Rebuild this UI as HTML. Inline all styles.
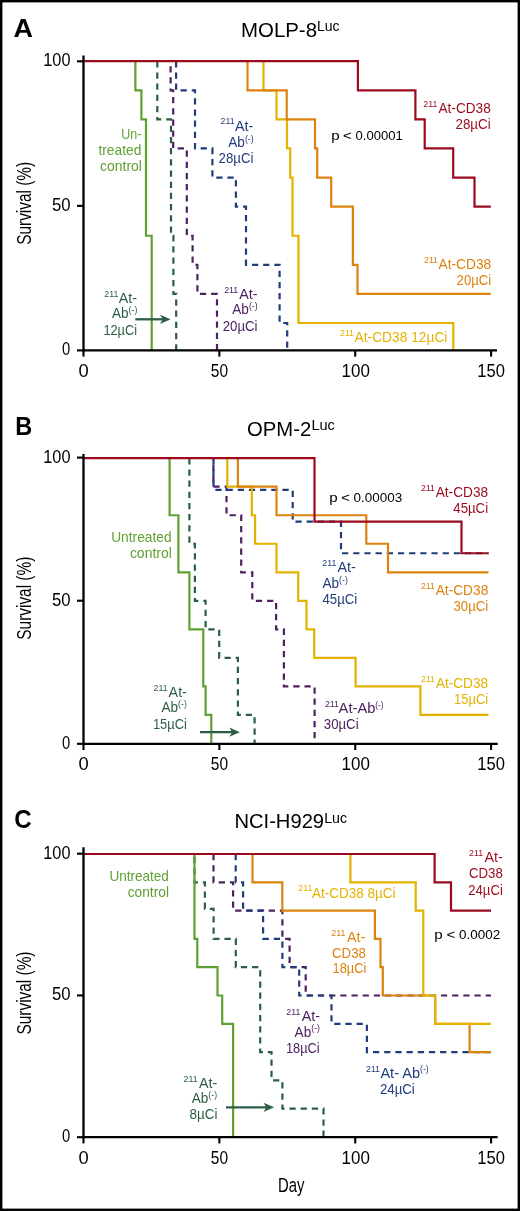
<!DOCTYPE html>
<html><head><meta charset="utf-8"><title>Survival curves</title>
<style>
html,body{margin:0;padding:0;background:#fff;}
body{width:520px;height:1211px;overflow:hidden;}
svg{display:block;font-family:"Liberation Sans", sans-serif;will-change:transform;}
</style></head>
<body>
<svg width="520" height="1211" viewBox="0 0 520 1211">
<rect x="0" y="0" width="520" height="1211" fill="#fff"/>
<rect x="1.2" y="1.2" width="517.6" height="1208.6" fill="none" stroke="#000" stroke-width="2.4"/>
<g><text x="70.5" y="66.2" font-size="17.5" fill="#000" textLength="27.2" lengthAdjust="spacingAndGlyphs" text-anchor="end">100</text>
<text x="70.6" y="210.8" font-size="17.5" fill="#000" textLength="18.6" lengthAdjust="spacingAndGlyphs" text-anchor="end">50</text>
<text x="70.1" y="355.3" font-size="17.5" fill="#000" textLength="8.2" lengthAdjust="spacingAndGlyphs" text-anchor="end">0</text>
<text x="83.5" y="376.5" font-size="17.5" fill="#000" textLength="10.2" lengthAdjust="spacingAndGlyphs" text-anchor="middle">0</text>
<text x="219.4" y="376.5" font-size="17.5" fill="#000" textLength="17.2" lengthAdjust="spacingAndGlyphs" text-anchor="middle">50</text>
<text x="355.7" y="376.5" font-size="17.5" fill="#000" textLength="28.3" lengthAdjust="spacingAndGlyphs" text-anchor="middle">100</text>
<text x="491.1" y="376.5" font-size="17.5" fill="#000" textLength="27.6" lengthAdjust="spacingAndGlyphs" text-anchor="middle">150</text>
<text transform="translate(30.9,203.3) rotate(-90)" x="0" y="0" font-size="20.5" text-anchor="middle" textLength="83" lengthAdjust="spacingAndGlyphs">Survival (%)</text>
<text x="13.6" y="36.9" font-size="25" fill="#000" textLength="19.5" lengthAdjust="spacingAndGlyphs" font-weight="bold">A</text>
<text x="241.0" y="37.3" font-size="19.5" fill="#000" textLength="76.0" lengthAdjust="spacingAndGlyphs">MOLP-8</text>
<text x="317.0" y="30.8" font-size="15.4" fill="#000" textLength="22.6" lengthAdjust="spacingAndGlyphs">Luc</text>
<path d="M157.30,61.20 H157.30 V119.38 H171.00 V235.74 H173.40 V293.92 H176.20 V350.40" fill="none" stroke="#2b5e45" stroke-width="2.2" stroke-linejoin="miter" stroke-linecap="butt" stroke-dasharray="6.25 4.93"/>
<path d="M170.60,61.20 H170.60 V90.29 H173.20 V148.47 H186.80 V235.74 H192.60 V264.83 H197.40 V293.92 H217.00 V350.40" fill="none" stroke="#4d2060" stroke-width="2.2" stroke-linejoin="miter" stroke-linecap="butt" stroke-dasharray="6.25 4.93" stroke-dashoffset="6.25"/>
<path d="M176.10,61.20 H176.10 V90.29 H195.00 V148.47 H212.40 V177.56 H235.90 V206.65 H246.00 V264.83 H279.60 V323.01 H287.20 V350.40" fill="none" stroke="#203d7a" stroke-width="2.2" stroke-linejoin="miter" stroke-linecap="butt" stroke-dasharray="6.25 4.93"/>
<path d="M135.40,61.20 H135.40 V90.29 H141.40 V119.38 H146.00 V235.74 H151.70 V350.40" fill="none" stroke="#5fa032" stroke-width="2.2" stroke-linejoin="miter" stroke-linecap="butt"/>
<path d="M263.50,61.20 H263.50 V90.29 H276.50 V119.38 H287.00 V148.47 H290.20 V177.56 H292.50 V235.74 H298.50 V323.01 H453.30 V350.40" fill="none" stroke="#e3b300" stroke-width="2.2" stroke-linejoin="miter" stroke-linecap="butt"/>
<path d="M247.50,61.20 H247.50 V90.29 H286.70 V119.38 H315.00 V148.47 H317.20 V177.56 H331.20 V206.65 H352.90 V264.83 H357.50 V293.92 H490.80" fill="none" stroke="#dc820f" stroke-width="2.2" stroke-linejoin="miter" stroke-linecap="butt"/>
<path d="M84.1,61.20 H357.90 H357.90 V90.29 H415.40 V119.38 H424.70 V148.47 H453.20 V177.56 H474.50 V206.65 H490.80" fill="none" stroke="#9c0a1e" stroke-width="2.2" stroke-linejoin="miter" stroke-linecap="butt"/>
<path d="M83.5,55.4 V351.5" stroke="#000" stroke-width="2.3" fill="none"/>
<path d="M82.4,350.4 H497.0" stroke="#000" stroke-width="2.3" fill="none"/>
<path d="M77,61.30 H83.5" stroke="#000" stroke-width="2.1" fill="none"/>
<path d="M77,205.85 H83.5" stroke="#000" stroke-width="2.1" fill="none"/>
<path d="M77,350.40 H83.5" stroke="#000" stroke-width="2.1" fill="none"/>
<path d="M83.50,350.4 V356.60" stroke="#000" stroke-width="2.1" fill="none"/>
<path d="M219.36,350.4 V356.60" stroke="#000" stroke-width="2.1" fill="none"/>
<path d="M355.23,350.4 V356.60" stroke="#000" stroke-width="2.1" fill="none"/>
<path d="M491.09,350.4 V356.60" stroke="#000" stroke-width="2.1" fill="none"/>
<text x="141.4" y="138.6" font-size="13.9" fill="#5fa032" textLength="20.2" lengthAdjust="spacingAndGlyphs" text-anchor="end">Un-</text>
<text x="141.4" y="154.7" font-size="13.9" fill="#5fa032" textLength="43.0" lengthAdjust="spacingAndGlyphs" text-anchor="end">treated</text>
<text x="141.9" y="170.6" font-size="13.9" fill="#5fa032" textLength="41.9" lengthAdjust="spacingAndGlyphs" text-anchor="end">control</text>
<text x="220.6" y="124.4" font-size="9.2" fill="#203d7a" textLength="14.0" lengthAdjust="spacingAndGlyphs">211</text>
<text x="253.3" y="130.5" font-size="13.9" fill="#203d7a" textLength="18.3" lengthAdjust="spacingAndGlyphs" text-anchor="end">At-</text>
<text x="228.3" y="147.0" font-size="13.9" fill="#203d7a" textLength="16.6" lengthAdjust="spacingAndGlyphs">Ab</text>
<text x="244.9" y="141.6" font-size="9.2" fill="#203d7a" textLength="8.8" lengthAdjust="spacingAndGlyphs">(-)</text>
<text x="253.4" y="162.5" font-size="13.9" fill="#203d7a" textLength="34.8" lengthAdjust="spacingAndGlyphs" text-anchor="end">28µCi</text>
<text x="104.3" y="296.9" font-size="9.2" fill="#2b5e45" textLength="14.0" lengthAdjust="spacingAndGlyphs">211</text>
<text x="137.0" y="302.6" font-size="13.9" fill="#2b5e45" textLength="18.3" lengthAdjust="spacingAndGlyphs" text-anchor="end">At-</text>
<text x="112.0" y="318.0" font-size="13.9" fill="#2b5e45" textLength="16.6" lengthAdjust="spacingAndGlyphs">Ab</text>
<text x="128.6" y="312.5" font-size="9.2" fill="#2b5e45" textLength="8.8" lengthAdjust="spacingAndGlyphs">(-)</text>
<text x="137.0" y="334.6" font-size="13.9" fill="#2b5e45" textLength="33.6" lengthAdjust="spacingAndGlyphs" text-anchor="end">12µCi</text>
<text x="224.2" y="292.7" font-size="9.2" fill="#4d2060" textLength="14.0" lengthAdjust="spacingAndGlyphs">211</text>
<text x="257.5" y="298.5" font-size="13.9" fill="#4d2060" textLength="18.3" lengthAdjust="spacingAndGlyphs" text-anchor="end">At-</text>
<text x="232.3" y="314.4" font-size="13.9" fill="#4d2060" textLength="16.6" lengthAdjust="spacingAndGlyphs">Ab</text>
<text x="248.9" y="308.9" font-size="9.2" fill="#4d2060" textLength="8.8" lengthAdjust="spacingAndGlyphs">(-)</text>
<text x="257.5" y="330.8" font-size="13.9" fill="#4d2060" textLength="34.8" lengthAdjust="spacingAndGlyphs" text-anchor="end">20µCi</text>
<text x="424.0" y="262.9" font-size="9.2" fill="#dc820f" textLength="14.0" lengthAdjust="spacingAndGlyphs">211</text>
<text x="491.2" y="268.7" font-size="13.9" fill="#dc820f" textLength="52.6" lengthAdjust="spacingAndGlyphs" text-anchor="end">At-CD38</text>
<text x="491.2" y="284.6" font-size="13.9" fill="#dc820f" textLength="34.6" lengthAdjust="spacingAndGlyphs" text-anchor="end">20µCi</text>
<text x="340.0" y="336.2" font-size="9.2" fill="#e3b300" textLength="14.0" lengthAdjust="spacingAndGlyphs">211</text>
<text x="354.6" y="342.0" font-size="13.9" fill="#e3b300" textLength="92.8" lengthAdjust="spacingAndGlyphs">At-CD38 12µCi</text>
<text x="423.3" y="106.9" font-size="9.2" fill="#9c0a1e" textLength="14.0" lengthAdjust="spacingAndGlyphs">211</text>
<text x="490.7" y="112.7" font-size="13.9" fill="#9c0a1e" textLength="52.2" lengthAdjust="spacingAndGlyphs" text-anchor="end">At-CD38</text>
<text x="490.7" y="129.3" font-size="13.9" fill="#9c0a1e" textLength="35.2" lengthAdjust="spacingAndGlyphs" text-anchor="end">28µCi</text>
<text x="331.2" y="139.6" font-size="12.8" fill="#000" textLength="8.4" lengthAdjust="spacingAndGlyphs">p</text>
<text x="343.1" y="139.6" font-size="12.8" fill="#000" textLength="8.8" lengthAdjust="spacingAndGlyphs">&lt;</text>
<text x="355.6" y="139.6" font-size="12.8" fill="#000" textLength="47.2" lengthAdjust="spacingAndGlyphs">0.00001</text>
<path d="M135.3,319.3 H164.6" stroke="#2b5e45" stroke-width="2.3" fill="none"/><path d="M170.6,319.3 L160.0,314.7 L162.79999999999998,319.3 L160.0,323.90000000000003 Z" fill="#2b5e45"/>
</g><g><text x="70.5" y="462.6" font-size="17.5" fill="#000" textLength="27.2" lengthAdjust="spacingAndGlyphs" text-anchor="end">100</text>
<text x="70.6" y="605.6" font-size="17.5" fill="#000" textLength="18.6" lengthAdjust="spacingAndGlyphs" text-anchor="end">50</text>
<text x="70.1" y="748.7" font-size="17.5" fill="#000" textLength="8.2" lengthAdjust="spacingAndGlyphs" text-anchor="end">0</text>
<text x="83.5" y="770.3" font-size="17.5" fill="#000" textLength="10.2" lengthAdjust="spacingAndGlyphs" text-anchor="middle">0</text>
<text x="219.4" y="770.3" font-size="17.5" fill="#000" textLength="17.2" lengthAdjust="spacingAndGlyphs" text-anchor="middle">50</text>
<text x="355.7" y="770.3" font-size="17.5" fill="#000" textLength="28.3" lengthAdjust="spacingAndGlyphs" text-anchor="middle">100</text>
<text x="491.1" y="770.3" font-size="17.5" fill="#000" textLength="27.6" lengthAdjust="spacingAndGlyphs" text-anchor="middle">150</text>
<text transform="translate(30.9,598.2) rotate(-90)" x="0" y="0" font-size="20.5" text-anchor="middle" textLength="83" lengthAdjust="spacingAndGlyphs">Survival (%)</text>
<text x="15.2" y="434.8" font-size="25" fill="#000" textLength="17.0" lengthAdjust="spacingAndGlyphs" font-weight="bold">B</text>
<text x="247.0" y="435.7" font-size="19.5" fill="#000" textLength="64.2" lengthAdjust="spacingAndGlyphs">OPM-2</text>
<text x="311.4" y="429.7" font-size="15.4" fill="#000" textLength="23.5" lengthAdjust="spacingAndGlyphs">Luc</text>
<path d="M189.40,458.20 H189.40 V543.76 H194.90 V600.80 H205.60 V629.32 H219.20 V657.84 H237.90 V714.88 H254.60 V743.80" fill="none" stroke="#2b5e45" stroke-width="2.2" stroke-linejoin="miter" stroke-linecap="butt" stroke-dasharray="6.25 4.93"/>
<path d="M213.40,458.20 H213.40 V486.72 H226.50 V515.24 H241.20 V572.28 H252.30 V600.80 H276.10 V629.32 H283.90 V686.36 H314.60 V743.80" fill="none" stroke="#4d2060" stroke-width="2.2" stroke-linejoin="miter" stroke-linecap="butt" stroke-dasharray="6.25 4.93" stroke-dashoffset="5.00"/>
<path d="M213.50,458.20 H213.50 V489.89 H292.70 V521.58 H341.00 V553.27 H488.50" fill="none" stroke="#203d7a" stroke-width="2.2" stroke-linejoin="miter" stroke-linecap="butt" stroke-dasharray="6.25 4.93"/>
<path d="M169.60,458.20 H169.60 V515.24 H178.40 V572.28 H189.40 V629.32 H203.30 V686.36 H205.60 V714.88 H211.30 V743.80" fill="none" stroke="#5fa032" stroke-width="2.2" stroke-linejoin="miter" stroke-linecap="butt"/>
<path d="M227.30,458.20 H227.30 V486.72 H251.80 V515.24 H255.10 V543.76 H276.50 V572.28 H298.20 V600.80 H306.50 V629.32 H314.20 V657.84 H355.60 V686.36 H420.40 V714.88 H488.50" fill="none" stroke="#e3b300" stroke-width="2.2" stroke-linejoin="miter" stroke-linecap="butt"/>
<path d="M237.90,458.20 H237.90 V486.72 H276.50 V515.24 H366.30 V543.76 H388.00 V572.28 H488.50" fill="none" stroke="#dc820f" stroke-width="2.2" stroke-linejoin="miter" stroke-linecap="butt"/>
<path d="M84.1,458.20 H314.50 H314.50 V521.58 H461.50 V553.27 H488.50" fill="none" stroke="#9c0a1e" stroke-width="2.2" stroke-linejoin="miter" stroke-linecap="butt"/>
<path d="M83.5,454.0 V744.9" stroke="#000" stroke-width="2.3" fill="none"/>
<path d="M82.4,743.8 H497.7" stroke="#000" stroke-width="2.3" fill="none"/>
<path d="M77,457.60 H83.5" stroke="#000" stroke-width="2.1" fill="none"/>
<path d="M77,600.70 H83.5" stroke="#000" stroke-width="2.1" fill="none"/>
<path d="M77,743.80 H83.5" stroke="#000" stroke-width="2.1" fill="none"/>
<path d="M83.50,743.8 V750.00" stroke="#000" stroke-width="2.1" fill="none"/>
<path d="M219.36,743.8 V750.00" stroke="#000" stroke-width="2.1" fill="none"/>
<path d="M355.23,743.8 V750.00" stroke="#000" stroke-width="2.1" fill="none"/>
<path d="M491.09,743.8 V750.00" stroke="#000" stroke-width="2.1" fill="none"/>
<text x="171.6" y="541.5" font-size="13.9" fill="#5fa032" textLength="60.4" lengthAdjust="spacingAndGlyphs" text-anchor="end">Untreated</text>
<text x="171.8" y="557.7" font-size="13.9" fill="#5fa032" textLength="41.9" lengthAdjust="spacingAndGlyphs" text-anchor="end">control</text>
<text x="153.6" y="690.9" font-size="9.2" fill="#2b5e45" textLength="14.0" lengthAdjust="spacingAndGlyphs">211</text>
<text x="186.9" y="696.7" font-size="13.9" fill="#2b5e45" textLength="18.3" lengthAdjust="spacingAndGlyphs" text-anchor="end">At-</text>
<text x="161.5" y="712.3" font-size="13.9" fill="#2b5e45" textLength="16.6" lengthAdjust="spacingAndGlyphs">Ab</text>
<text x="178.1" y="706.8" font-size="9.2" fill="#2b5e45" textLength="8.8" lengthAdjust="spacingAndGlyphs">(-)</text>
<text x="186.9" y="728.5" font-size="13.9" fill="#2b5e45" textLength="34.0" lengthAdjust="spacingAndGlyphs" text-anchor="end">15µCi</text>
<text x="322.3" y="566.1" font-size="9.2" fill="#203d7a" textLength="14.0" lengthAdjust="spacingAndGlyphs">211</text>
<text x="355.8" y="571.9" font-size="13.9" fill="#203d7a" textLength="18.3" lengthAdjust="spacingAndGlyphs" text-anchor="end">At-</text>
<text x="322.5" y="588.1" font-size="13.9" fill="#203d7a" textLength="16.6" lengthAdjust="spacingAndGlyphs">Ab</text>
<text x="339.1" y="582.6" font-size="9.2" fill="#203d7a" textLength="8.8" lengthAdjust="spacingAndGlyphs">(-)</text>
<text x="322.5" y="604.2" font-size="13.9" fill="#203d7a" textLength="34.8" lengthAdjust="spacingAndGlyphs">45µCi</text>
<text x="324.9" y="707.4" font-size="9.2" fill="#4d2060" textLength="14.0" lengthAdjust="spacingAndGlyphs">211</text>
<text x="338.6" y="713.2" font-size="13.9" fill="#4d2060" textLength="36.8" lengthAdjust="spacingAndGlyphs">At-Ab</text>
<text x="375.3" y="707.7" font-size="9.2" fill="#4d2060" textLength="8.0" lengthAdjust="spacingAndGlyphs">(-)</text>
<text x="323.8" y="728.6" font-size="13.9" fill="#4d2060" textLength="34.8" lengthAdjust="spacingAndGlyphs">30µCi</text>
<text x="421.0" y="682.4" font-size="9.2" fill="#e3b300" textLength="14.0" lengthAdjust="spacingAndGlyphs">211</text>
<text x="488.1" y="688.2" font-size="13.9" fill="#e3b300" textLength="52.2" lengthAdjust="spacingAndGlyphs" text-anchor="end">At-CD38</text>
<text x="488.1" y="703.7" font-size="13.9" fill="#e3b300" textLength="34.0" lengthAdjust="spacingAndGlyphs" text-anchor="end">15µCi</text>
<text x="421.0" y="589.2" font-size="9.2" fill="#dc820f" textLength="14.0" lengthAdjust="spacingAndGlyphs">211</text>
<text x="488.3" y="595.0" font-size="13.9" fill="#dc820f" textLength="52.6" lengthAdjust="spacingAndGlyphs" text-anchor="end">At-CD38</text>
<text x="488.3" y="611.0" font-size="13.9" fill="#dc820f" textLength="34.8" lengthAdjust="spacingAndGlyphs" text-anchor="end">30µCi</text>
<text x="421.0" y="491.0" font-size="9.2" fill="#9c0a1e" textLength="14.0" lengthAdjust="spacingAndGlyphs">211</text>
<text x="488.1" y="496.8" font-size="13.9" fill="#9c0a1e" textLength="52.4" lengthAdjust="spacingAndGlyphs" text-anchor="end">At-CD38</text>
<text x="488.1" y="512.7" font-size="13.9" fill="#9c0a1e" textLength="34.8" lengthAdjust="spacingAndGlyphs" text-anchor="end">45µCi</text>
<text x="329.3" y="502.2" font-size="12.8" fill="#000" textLength="8.4" lengthAdjust="spacingAndGlyphs">p</text>
<text x="341.2" y="502.2" font-size="12.8" fill="#000" textLength="8.8" lengthAdjust="spacingAndGlyphs">&lt;</text>
<text x="353.6" y="502.2" font-size="12.8" fill="#000" textLength="48.6" lengthAdjust="spacingAndGlyphs">0.00003</text>
<path d="M200.0,732.2 H233.9" stroke="#2b5e45" stroke-width="2.3" fill="none"/><path d="M239.9,732.2 L229.3,727.6 L232.1,732.2 L229.3,736.8000000000001 Z" fill="#2b5e45"/>
</g><g><text x="70.5" y="858.7" font-size="17.5" fill="#000" textLength="27.2" lengthAdjust="spacingAndGlyphs" text-anchor="end">100</text>
<text x="70.6" y="1000.4" font-size="17.5" fill="#000" textLength="18.6" lengthAdjust="spacingAndGlyphs" text-anchor="end">50</text>
<text x="70.1" y="1142.1" font-size="17.5" fill="#000" textLength="8.2" lengthAdjust="spacingAndGlyphs" text-anchor="end">0</text>
<text x="83.5" y="1163.7" font-size="17.5" fill="#000" textLength="10.2" lengthAdjust="spacingAndGlyphs" text-anchor="middle">0</text>
<text x="219.4" y="1163.7" font-size="17.5" fill="#000" textLength="17.2" lengthAdjust="spacingAndGlyphs" text-anchor="middle">50</text>
<text x="355.7" y="1163.7" font-size="17.5" fill="#000" textLength="28.3" lengthAdjust="spacingAndGlyphs" text-anchor="middle">100</text>
<text x="491.1" y="1163.7" font-size="17.5" fill="#000" textLength="27.6" lengthAdjust="spacingAndGlyphs" text-anchor="middle">150</text>
<text transform="translate(30.9,993.0) rotate(-90)" x="0" y="0" font-size="20.5" text-anchor="middle" textLength="83" lengthAdjust="spacingAndGlyphs">Survival (%)</text>
<text x="14.2" y="828.3" font-size="25" fill="#000" textLength="17.4" lengthAdjust="spacingAndGlyphs" font-weight="bold">C</text>
<text x="234.4" y="828.3" font-size="19.5" fill="#000" textLength="89.7" lengthAdjust="spacingAndGlyphs">NCI-H929</text>
<text x="324.2" y="822.8" font-size="15.4" fill="#000" textLength="23.0" lengthAdjust="spacingAndGlyphs">Luc</text>
<path d="M194.50,854.00 H194.50 V882.30 H204.90 V908.80 H213.60 V938.90 H235.80 V967.20 H260.20 V1052.10 H271.50 V1080.40 H282.40 V1108.70 H323.50 V1137.20" fill="none" stroke="#2b5e45" stroke-width="2.2" stroke-linejoin="miter" stroke-linecap="butt" stroke-dasharray="6.25 4.93" stroke-dashoffset="8.10"/>
<path d="M213.50,854.00 H213.50 V882.30 H233.10 V910.60 H282.40 V938.90 H289.60 V967.20 H305.70 V995.50 H491.00" fill="none" stroke="#4d2060" stroke-width="2.2" stroke-linejoin="miter" stroke-linecap="butt" stroke-dasharray="6.25 4.93"/>
<path d="M235.70,854.00 H235.70 V882.30 H243.10 V910.60 H263.10 V938.90 H282.40 V967.20 H299.20 V995.50 H331.50 V1023.80 H366.90 V1052.10 H491.00" fill="none" stroke="#203d7a" stroke-width="2.2" stroke-linejoin="miter" stroke-linecap="butt" stroke-dasharray="6.25 4.93"/>
<path d="M194.50,854.00 H194.50 V938.90 H197.30 V967.20 H217.50 V995.50 H222.20 V1023.80 H233.10 V1137.20" fill="none" stroke="#5fa032" stroke-width="2.2" stroke-linejoin="miter" stroke-linecap="butt"/>
<path d="M252.50,854.00 H252.50 V882.30 H282.30 V910.60 H374.90 V938.90 H380.50 V967.20 H382.80 V995.50 H435.20 V1023.80 H469.60 V1052.10 H491.00" fill="none" stroke="#dc820f" stroke-width="2.2" stroke-linejoin="miter" stroke-linecap="butt"/>
<path d="M350.40,854.00 H350.40 V882.30 H415.70 V910.60 H423.30 V995.50 H435.20 V1023.80 H491.00" fill="none" stroke="#e3b300" stroke-width="2.2" stroke-linejoin="miter" stroke-linecap="butt"/>
<path d="M84.1,854.00 H434.60 H434.60 V882.30 H451.00 V910.60 H491.00" fill="none" stroke="#9c0a1e" stroke-width="2.2" stroke-linejoin="miter" stroke-linecap="butt"/>
<path d="M83.5,847.2 V1138.3" stroke="#000" stroke-width="2.3" fill="none"/>
<path d="M82.4,1137.2 H497.7" stroke="#000" stroke-width="2.3" fill="none"/>
<path d="M77,853.70 H83.5" stroke="#000" stroke-width="2.1" fill="none"/>
<path d="M77,995.45 H83.5" stroke="#000" stroke-width="2.1" fill="none"/>
<path d="M77,1137.20 H83.5" stroke="#000" stroke-width="2.1" fill="none"/>
<path d="M83.50,1137.2 V1143.40" stroke="#000" stroke-width="2.1" fill="none"/>
<path d="M219.36,1137.2 V1143.40" stroke="#000" stroke-width="2.1" fill="none"/>
<path d="M355.23,1137.2 V1143.40" stroke="#000" stroke-width="2.1" fill="none"/>
<path d="M491.09,1137.2 V1143.40" stroke="#000" stroke-width="2.1" fill="none"/>
<text x="168.9" y="880.6" font-size="13.9" fill="#5fa032" textLength="59.5" lengthAdjust="spacingAndGlyphs" text-anchor="end">Untreated</text>
<text x="169.0" y="896.5" font-size="13.9" fill="#5fa032" textLength="41.3" lengthAdjust="spacingAndGlyphs" text-anchor="end">control</text>
<text x="183.6" y="1081.8" font-size="9.2" fill="#2b5e45" textLength="14.0" lengthAdjust="spacingAndGlyphs">211</text>
<text x="217.3" y="1087.5" font-size="13.9" fill="#2b5e45" textLength="18.3" lengthAdjust="spacingAndGlyphs" text-anchor="end">At-</text>
<text x="191.7" y="1103.2" font-size="13.9" fill="#2b5e45" textLength="16.6" lengthAdjust="spacingAndGlyphs">Ab</text>
<text x="208.3" y="1097.7" font-size="9.2" fill="#2b5e45" textLength="8.8" lengthAdjust="spacingAndGlyphs">(-)</text>
<text x="217.5" y="1119.0" font-size="13.9" fill="#2b5e45" textLength="27.9" lengthAdjust="spacingAndGlyphs" text-anchor="end">8µCi</text>
<text x="286.3" y="1014.8" font-size="9.2" fill="#4d2060" textLength="14.0" lengthAdjust="spacingAndGlyphs">211</text>
<text x="320.0" y="1020.6" font-size="13.9" fill="#4d2060" textLength="18.3" lengthAdjust="spacingAndGlyphs" text-anchor="end">At-</text>
<text x="294.6" y="1036.7" font-size="13.9" fill="#4d2060" textLength="16.6" lengthAdjust="spacingAndGlyphs">Ab</text>
<text x="311.2" y="1031.2" font-size="9.2" fill="#4d2060" textLength="8.8" lengthAdjust="spacingAndGlyphs">(-)</text>
<text x="319.6" y="1052.5" font-size="13.9" fill="#4d2060" textLength="33.6" lengthAdjust="spacingAndGlyphs" text-anchor="end">18µCi</text>
<text x="366.0" y="1071.9" font-size="9.2" fill="#203d7a" textLength="14.0" lengthAdjust="spacingAndGlyphs">211</text>
<text x="380.4" y="1077.7" font-size="13.9" fill="#203d7a" textLength="39.7" lengthAdjust="spacingAndGlyphs">At- Ab</text>
<text x="420.0" y="1072.2" font-size="9.2" fill="#203d7a" textLength="8.8" lengthAdjust="spacingAndGlyphs">(-)</text>
<text x="379.9" y="1093.7" font-size="13.9" fill="#203d7a" textLength="34.9" lengthAdjust="spacingAndGlyphs">24µCi</text>
<text x="298.3" y="890.7" font-size="9.2" fill="#e3b300" textLength="14.0" lengthAdjust="spacingAndGlyphs">211</text>
<text x="312.0" y="897.7" font-size="13.9" fill="#e3b300" textLength="83.6" lengthAdjust="spacingAndGlyphs">At-CD38 8µCi</text>
<text x="331.3" y="936.3" font-size="9.2" fill="#dc820f" textLength="14.0" lengthAdjust="spacingAndGlyphs">211</text>
<text x="365.2" y="942.1" font-size="13.9" fill="#dc820f" textLength="18.3" lengthAdjust="spacingAndGlyphs" text-anchor="end">At-</text>
<text x="365.8" y="957.7" font-size="13.9" fill="#dc820f" textLength="33.7" lengthAdjust="spacingAndGlyphs" text-anchor="end">CD38</text>
<text x="366.4" y="973.3" font-size="13.9" fill="#dc820f" textLength="33.9" lengthAdjust="spacingAndGlyphs" text-anchor="end">18µCi</text>
<text x="469.1" y="856.4" font-size="9.2" fill="#9c0a1e" textLength="14.0" lengthAdjust="spacingAndGlyphs">211</text>
<text x="502.8" y="862.2" font-size="13.9" fill="#9c0a1e" textLength="18.3" lengthAdjust="spacingAndGlyphs" text-anchor="end">At-</text>
<text x="502.8" y="878.4" font-size="13.9" fill="#9c0a1e" textLength="33.9" lengthAdjust="spacingAndGlyphs" text-anchor="end">CD38</text>
<text x="502.8" y="894.5" font-size="13.9" fill="#9c0a1e" textLength="34.5" lengthAdjust="spacingAndGlyphs" text-anchor="end">24µCi</text>
<text x="434.3" y="939.2" font-size="12.8" fill="#000" textLength="8.4" lengthAdjust="spacingAndGlyphs">p</text>
<text x="446.6" y="939.2" font-size="12.8" fill="#000" textLength="8.8" lengthAdjust="spacingAndGlyphs">&lt;</text>
<text x="459.0" y="939.2" font-size="12.8" fill="#000" textLength="41.2" lengthAdjust="spacingAndGlyphs">0.0002</text>
<path d="M226.0,1107.3 H268.1" stroke="#2b5e45" stroke-width="2.3" fill="none"/><path d="M274.1,1107.3 L263.5,1102.7 L266.3,1107.3 L263.5,1111.8999999999999 Z" fill="#2b5e45"/>
<text x="291.2" y="1191.6" font-size="20.5" fill="#000" textLength="26.4" lengthAdjust="spacingAndGlyphs" text-anchor="middle">Day</text>
</g>
</svg>
</body></html>
